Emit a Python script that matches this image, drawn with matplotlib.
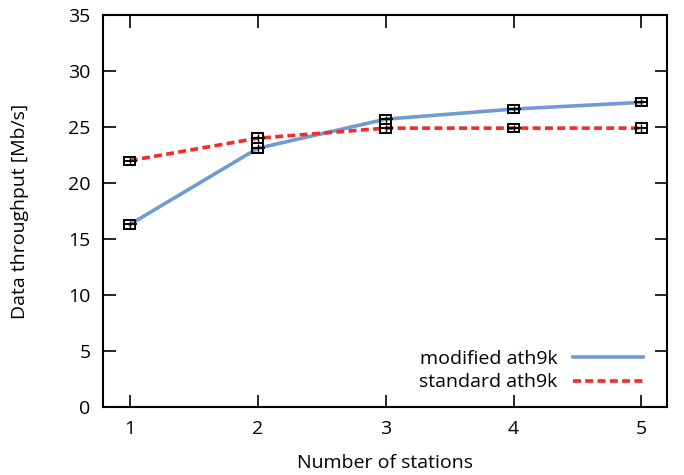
import numpy as np
import matplotlib.pyplot as plt

plt.rcParams['font.family'] = ['Open Sans', 'DejaVu Sans']

# Data
stations = [1, 2, 3, 4, 5]
modified = [16.3, 23.1, 25.7, 26.6, 27.2]
modified_err = [0.4, 0.45, 0.4, 0.35, 0.35]
standard = [22.0, 24.0, 24.9, 24.9, 24.9]
standard_err = [0.35, 0.45, 0.4, 0.35, 0.45]

blue = '#6f9bd1'
red = '#f52a2a'

fig = plt.figure(figsize=(6.84, 4.75), dpi=100)
ax = fig.add_axes([103 / 684, 68 / 475, 564 / 684, 392 / 475])

ax.plot(stations, modified, color=blue, lw=2.6, label='modified ath9k', zorder=2)
ax.plot(stations, standard, color=red, lw=2.6, ls=(0, (2.2, 1.2)), label='standard ath9k', zorder=2)

# candlestick-style error boxes
for vals, errs in [(modified, modified_err), (standard, standard_err)]:
    v = np.array(vals)
    e = np.array(errs)
    ax.bar(stations, 2 * e, bottom=v - e, width=0.085, facecolor='none',
           edgecolor='black', lw=1.4, zorder=3)
    ax.errorbar(stations, v, yerr=e * 0.8, fmt='none', ecolor='black', elinewidth=1.0, zorder=3)
    ax.plot(stations, v, ls='none', marker='_', ms=10, mew=1.4, color='black', zorder=3)

ax.set_xlim(0.79, 5.2)
ax.set_ylim(0, 35)
ax.set_xticks(stations)
ax.set_yticks(np.arange(0, 36, 5))
ax.tick_params(direction='in', top=True, right=True, length=9, width=1.2,
               labelsize=14, pad=9)
for s in ax.spines.values():
    s.set_linewidth(1.5)

ax.set_xlabel('Number of stations', fontsize=14, labelpad=12)
ax.set_ylabel('Data throughput [Mb/s]', fontsize=14, labelpad=28)

ax.legend(loc='lower right', frameon=False, markerfirst=False, fontsize=14,
          handlelength=3.6, borderaxespad=0.4, labelspacing=0.3,
          bbox_to_anchor=(0.985, 0.0))

fig.savefig('out.png', dpi=100)
